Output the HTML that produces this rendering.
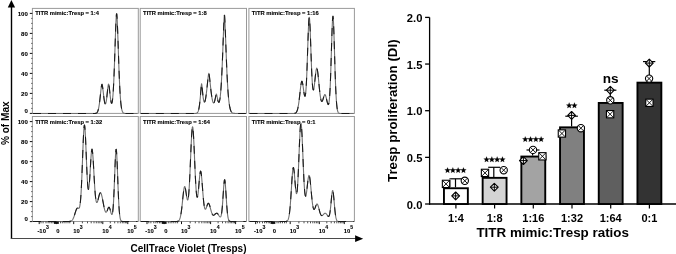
<!DOCTYPE html>
<html><head><meta charset="utf-8"><style>
html,body{margin:0;padding:0;background:#fff;}
body{width:676px;height:254px;position:relative;overflow:hidden;font-family:"Liberation Sans",sans-serif;}
</style></head><body>
<svg width="676" height="254" viewBox="0 0 676 254" style="position:absolute;left:0;top:0;filter:grayscale(1)">
<rect width="676" height="254" fill="#fff"/>
<line x1="11.5" y1="6" x2="11.5" y2="238.6" stroke="#000" stroke-width="1.4"/>
<polygon points="11.4,0 15.1,7.4 7.8,7.4" fill="#000"/>
<line x1="10.8" y1="238.5" x2="356" y2="238.5" stroke="#4a4a4a" stroke-width="1.15"/>
<polygon points="363.2,238.7 355.1,235.3 355.1,242.1" fill="#000"/>
<text x="0" y="0" transform="translate(8.9,145.1) rotate(-90)" font-family="Liberation Sans,sans-serif" font-weight="bold" font-size="10.1" fill="#000">% of Max</text>
<text x="188.5" y="252" text-anchor="middle" font-family="Liberation Sans,sans-serif" font-weight="bold" font-size="10" fill="#000">CellTrace Violet (Tresps)</text>
<rect x="32.4" y="8.4" width="105.9" height="105.0" fill="none" stroke="#999" stroke-width="1"/>
<text x="35.3" y="15.4" font-family="Liberation Sans,sans-serif" font-weight="bold" font-size="5.8" fill="#000" stroke="#000" stroke-width="0.12">TITR mimic:Tresp = 1:4</text>
<path d="M33.00,113.50 L94.50,113.47 L94.75,113.46 L95.00,113.44 L95.25,113.41 L95.50,113.37 L95.75,113.31 L96.00,113.24 L96.25,113.13 L96.50,112.99 L96.75,112.79 L97.00,112.54 L97.25,112.21 L97.50,111.79 L97.75,111.26 L98.00,110.60 L98.25,109.78 L98.50,108.79 L98.75,107.61 L99.00,106.22 L99.25,104.63 L99.50,102.83 L99.75,100.83 L100.00,98.67 L100.25,96.38 L100.50,94.03 L100.75,91.70 L101.00,89.47 L101.25,87.47 L101.50,85.83 L101.75,84.69 L102.00,84.31 L102.25,84.98 L102.50,86.28 L102.75,88.01 L103.00,90.02 L103.25,92.19 L103.50,94.39 L103.75,96.52 L104.00,98.50 L104.25,100.25 L104.50,101.70 L104.75,102.83 L105.00,103.58 L105.25,103.93 L105.50,103.87 L105.75,103.39 L106.00,102.51 L106.25,101.22 L106.50,99.58 L106.75,97.63 L107.00,95.44 L107.25,93.11 L107.50,90.74 L107.75,88.49 L108.00,86.49 L108.25,84.94 L108.50,84.06 L108.75,84.32 L109.00,85.50 L109.25,87.26 L109.50,89.38 L109.75,91.70 L110.00,94.07 L110.25,96.35 L110.50,98.43 L110.75,100.22 L111.00,101.66 L111.25,102.67 L111.50,103.21 L111.75,103.25 L112.00,102.75 L112.25,101.68 L112.50,100.00 L112.75,97.69 L113.00,94.72 L113.25,91.07 L113.50,86.72 L113.75,81.70 L114.00,76.01 L114.25,69.71 L114.50,62.90 L114.75,55.69 L115.00,48.26 L115.25,40.81 L115.50,33.60 L115.75,26.93 L116.00,21.14 L116.25,16.61 L116.50,13.81 L116.75,13.81 L117.00,16.61 L117.25,21.15 L117.50,26.95 L117.75,33.62 L118.00,40.84 L118.25,48.31 L118.50,55.78 L118.75,63.03 L119.00,69.91 L119.25,76.30 L119.50,82.12 L119.75,87.32 L120.00,91.91 L120.25,95.88 L120.50,99.27 L120.75,102.14 L121.00,104.51 L121.25,106.47 L121.50,108.05 L121.75,109.32 L122.00,110.32 L122.25,111.11 L122.50,111.72 L122.75,112.18 L123.00,112.54 L123.25,112.80 L123.50,113.00 L123.75,113.14 L124.00,113.25 L124.25,113.32 L124.50,113.38 L124.75,113.42 L125.00,113.44 L125.25,113.46 L125.50,113.47 L137.50,113.50" fill="none" stroke="#707070" stroke-width="1.1" stroke-linejoin="round"/>
<path d="M33.00,113.50 L94.50,113.47 L94.75,113.46 L95.00,113.44 L95.25,113.41 L95.50,113.37 L95.75,113.31 L96.00,113.24 L96.25,113.13 L96.50,112.99 L96.75,112.79 L97.00,112.54 L97.25,112.21 L97.50,111.79 L97.75,111.26 L98.00,110.60 L98.25,109.78 L98.50,108.79 L98.75,107.61 L99.00,106.22 L99.25,104.63 L99.50,102.83 L99.75,100.83 L100.00,98.67 L100.25,96.38 L100.50,94.03 L100.75,91.70 L101.00,89.47 L101.25,87.47 L101.50,85.83 L101.75,84.69 L102.00,84.31 L102.25,84.98 L102.50,86.28 L102.75,88.01 L103.00,90.02 L103.25,92.19 L103.50,94.39 L103.75,96.52 L104.00,98.50 L104.25,100.25 L104.50,101.70 L104.75,102.83 L105.00,103.58 L105.25,103.93 L105.50,103.87 L105.75,103.39 L106.00,102.51 L106.25,101.22 L106.50,99.58 L106.75,97.63 L107.00,95.44 L107.25,93.11 L107.50,90.74 L107.75,88.49 L108.00,86.49 L108.25,84.94 L108.50,84.06 L108.75,84.32 L109.00,85.50 L109.25,87.26 L109.50,89.38 L109.75,91.70 L110.00,94.07 L110.25,96.35 L110.50,98.43 L110.75,100.22 L111.00,101.66 L111.25,102.67 L111.50,103.21 L111.75,103.25 L112.00,102.75 L112.25,101.68 L112.50,100.00 L112.75,97.69 L113.00,94.72 L113.25,91.07 L113.50,86.72 L113.75,81.70 L114.00,76.01 L114.25,69.71 L114.50,62.90 L114.75,55.69 L115.00,48.26 L115.25,40.81 L115.50,33.60 L115.75,26.93 L116.00,21.14 L116.25,16.61 L116.50,13.81 L116.75,13.81 L117.00,16.61 L117.25,21.15 L117.50,26.95 L117.75,33.62 L118.00,40.84 L118.25,48.31 L118.50,55.78 L118.75,63.03 L119.00,69.91 L119.25,76.30 L119.50,82.12 L119.75,87.32 L120.00,91.91 L120.25,95.88 L120.50,99.27 L120.75,102.14 L121.00,104.51 L121.25,106.47 L121.50,108.05 L121.75,109.32 L122.00,110.32 L122.25,111.11 L122.50,111.72 L122.75,112.18 L123.00,112.54 L123.25,112.80 L123.50,113.00 L123.75,113.14 L124.00,113.25 L124.25,113.32 L124.50,113.38 L124.75,113.42 L125.00,113.44 L125.25,113.46 L125.50,113.47 L137.50,113.50" fill="none" stroke="#1a1a1a" stroke-width="1.05" stroke-dasharray="8 7" stroke-linejoin="round"/>
<line x1="29.8" y1="113.40" x2="32.4" y2="113.40" stroke="#111" stroke-width="1"/>
<text x="27.8" y="113.10" text-anchor="end" font-family="Liberation Sans,sans-serif" font-weight="bold" font-size="6.1" fill="#000" stroke="#000" stroke-width="0.1">0</text>
<line x1="31.2" y1="108.40" x2="32.4" y2="108.40" stroke="#333" stroke-width="0.8"/>
<line x1="31.2" y1="103.40" x2="32.4" y2="103.40" stroke="#333" stroke-width="0.8"/>
<line x1="31.2" y1="98.40" x2="32.4" y2="98.40" stroke="#333" stroke-width="0.8"/>
<line x1="29.8" y1="93.40" x2="32.4" y2="93.40" stroke="#111" stroke-width="1"/>
<text x="27.8" y="95.50" text-anchor="end" font-family="Liberation Sans,sans-serif" font-weight="bold" font-size="6.1" fill="#000" stroke="#000" stroke-width="0.1">20</text>
<line x1="31.2" y1="88.40" x2="32.4" y2="88.40" stroke="#333" stroke-width="0.8"/>
<line x1="31.2" y1="83.40" x2="32.4" y2="83.40" stroke="#333" stroke-width="0.8"/>
<line x1="31.2" y1="78.40" x2="32.4" y2="78.40" stroke="#333" stroke-width="0.8"/>
<line x1="29.8" y1="73.40" x2="32.4" y2="73.40" stroke="#111" stroke-width="1"/>
<text x="27.8" y="75.50" text-anchor="end" font-family="Liberation Sans,sans-serif" font-weight="bold" font-size="6.1" fill="#000" stroke="#000" stroke-width="0.1">40</text>
<line x1="31.2" y1="68.40" x2="32.4" y2="68.40" stroke="#333" stroke-width="0.8"/>
<line x1="31.2" y1="63.40" x2="32.4" y2="63.40" stroke="#333" stroke-width="0.8"/>
<line x1="31.2" y1="58.40" x2="32.4" y2="58.40" stroke="#333" stroke-width="0.8"/>
<line x1="29.8" y1="53.40" x2="32.4" y2="53.40" stroke="#111" stroke-width="1"/>
<text x="27.8" y="55.50" text-anchor="end" font-family="Liberation Sans,sans-serif" font-weight="bold" font-size="6.1" fill="#000" stroke="#000" stroke-width="0.1">60</text>
<line x1="31.2" y1="48.40" x2="32.4" y2="48.40" stroke="#333" stroke-width="0.8"/>
<line x1="31.2" y1="43.40" x2="32.4" y2="43.40" stroke="#333" stroke-width="0.8"/>
<line x1="31.2" y1="38.40" x2="32.4" y2="38.40" stroke="#333" stroke-width="0.8"/>
<line x1="29.8" y1="33.40" x2="32.4" y2="33.40" stroke="#111" stroke-width="1"/>
<text x="27.8" y="35.50" text-anchor="end" font-family="Liberation Sans,sans-serif" font-weight="bold" font-size="6.1" fill="#000" stroke="#000" stroke-width="0.1">80</text>
<line x1="31.2" y1="28.40" x2="32.4" y2="28.40" stroke="#333" stroke-width="0.8"/>
<line x1="31.2" y1="23.40" x2="32.4" y2="23.40" stroke="#333" stroke-width="0.8"/>
<line x1="31.2" y1="18.40" x2="32.4" y2="18.40" stroke="#333" stroke-width="0.8"/>
<line x1="29.8" y1="13.40" x2="32.4" y2="13.40" stroke="#111" stroke-width="1"/>
<text x="27.8" y="15.50" text-anchor="end" font-family="Liberation Sans,sans-serif" font-weight="bold" font-size="6.1" fill="#000" stroke="#000" stroke-width="0.1">100</text>
<rect x="140.2" y="8.4" width="106.3" height="105.0" fill="none" stroke="#999" stroke-width="1"/>
<text x="143.1" y="15.4" font-family="Liberation Sans,sans-serif" font-weight="bold" font-size="5.8" fill="#000" stroke="#000" stroke-width="0.12">TITR mimic:Tresp = 1:8</text>
<path d="M140.80,113.50 L194.80,113.48 L195.05,113.47 L195.30,113.45 L195.55,113.43 L195.80,113.40 L196.05,113.35 L196.30,113.29 L196.55,113.21 L196.80,113.09 L197.05,112.93 L197.30,112.72 L197.55,112.43 L197.80,112.05 L198.05,111.56 L198.30,110.92 L198.55,110.12 L198.80,109.10 L199.05,107.85 L199.30,106.32 L199.55,104.50 L199.80,102.37 L200.05,99.92 L200.30,97.19 L200.55,94.24 L200.80,91.17 L201.05,88.16 L201.30,85.49 L201.55,83.69 L201.80,84.64 L202.05,86.77 L202.30,89.29 L202.55,91.88 L202.80,94.36 L203.05,96.58 L203.30,98.46 L203.55,99.96 L203.80,101.07 L204.05,101.78 L204.30,102.10 L204.55,102.07 L204.80,101.70 L205.05,101.02 L205.30,100.05 L205.55,98.82 L205.80,97.36 L206.05,95.67 L206.30,93.79 L206.55,91.74 L206.80,89.55 L207.05,87.25 L207.30,84.89 L207.55,82.51 L207.80,80.17 L208.05,77.94 L208.30,75.94 L208.55,74.30 L208.80,73.30 L209.05,74.09 L209.30,75.66 L209.55,77.60 L209.80,79.78 L210.05,82.09 L210.30,84.44 L210.55,86.79 L210.80,89.07 L211.05,91.25 L211.30,93.30 L211.55,95.18 L211.80,96.90 L212.05,98.41 L212.30,99.73 L212.55,100.82 L212.80,101.70 L213.05,102.35 L213.30,102.77 L213.55,102.95 L213.80,102.91 L214.05,102.63 L214.30,102.14 L214.55,101.43 L214.80,100.54 L215.05,99.50 L215.30,98.33 L215.55,97.10 L215.80,95.89 L216.05,94.81 L216.30,94.04 L216.55,94.35 L216.80,95.33 L217.05,96.52 L217.30,97.76 L217.55,98.97 L217.80,100.06 L218.05,100.99 L218.30,101.70 L218.55,102.15 L218.80,102.33 L219.05,102.20 L219.30,101.74 L219.55,100.93 L219.80,99.74 L220.05,98.16 L220.30,96.17 L220.55,93.73 L220.80,90.83 L221.05,87.46 L221.30,83.60 L221.55,79.24 L221.80,74.39 L222.05,69.06 L222.30,63.28 L222.55,57.11 L222.80,50.63 L223.05,43.96 L223.30,37.23 L223.55,30.66 L223.80,24.52 L224.05,19.17 L224.30,15.23 L224.55,15.23 L224.80,19.18 L225.05,24.55 L225.30,30.71 L225.55,37.30 L225.80,44.06 L226.05,50.77 L226.30,57.30 L226.55,63.53 L226.80,69.39 L227.05,74.82 L227.30,79.80 L227.55,84.32 L227.80,88.38 L228.05,92.00 L228.30,95.20 L228.55,98.00 L228.80,100.44 L229.05,102.55 L229.30,104.37 L229.55,105.92 L229.80,107.23 L230.05,108.34 L230.30,109.28 L230.55,110.06 L230.80,110.70 L231.05,111.24 L231.30,111.68 L231.55,112.04 L231.80,112.33 L232.05,112.57 L232.30,112.76 L232.55,112.92 L232.80,113.04 L233.05,113.14 L233.30,113.22 L233.55,113.28 L233.80,113.33 L234.05,113.37 L234.30,113.40 L234.55,113.42 L234.80,113.44 L235.05,113.45 L235.30,113.47 L245.80,113.50" fill="none" stroke="#707070" stroke-width="1.1" stroke-linejoin="round"/>
<path d="M140.80,113.50 L194.80,113.48 L195.05,113.47 L195.30,113.45 L195.55,113.43 L195.80,113.40 L196.05,113.35 L196.30,113.29 L196.55,113.21 L196.80,113.09 L197.05,112.93 L197.30,112.72 L197.55,112.43 L197.80,112.05 L198.05,111.56 L198.30,110.92 L198.55,110.12 L198.80,109.10 L199.05,107.85 L199.30,106.32 L199.55,104.50 L199.80,102.37 L200.05,99.92 L200.30,97.19 L200.55,94.24 L200.80,91.17 L201.05,88.16 L201.30,85.49 L201.55,83.69 L201.80,84.64 L202.05,86.77 L202.30,89.29 L202.55,91.88 L202.80,94.36 L203.05,96.58 L203.30,98.46 L203.55,99.96 L203.80,101.07 L204.05,101.78 L204.30,102.10 L204.55,102.07 L204.80,101.70 L205.05,101.02 L205.30,100.05 L205.55,98.82 L205.80,97.36 L206.05,95.67 L206.30,93.79 L206.55,91.74 L206.80,89.55 L207.05,87.25 L207.30,84.89 L207.55,82.51 L207.80,80.17 L208.05,77.94 L208.30,75.94 L208.55,74.30 L208.80,73.30 L209.05,74.09 L209.30,75.66 L209.55,77.60 L209.80,79.78 L210.05,82.09 L210.30,84.44 L210.55,86.79 L210.80,89.07 L211.05,91.25 L211.30,93.30 L211.55,95.18 L211.80,96.90 L212.05,98.41 L212.30,99.73 L212.55,100.82 L212.80,101.70 L213.05,102.35 L213.30,102.77 L213.55,102.95 L213.80,102.91 L214.05,102.63 L214.30,102.14 L214.55,101.43 L214.80,100.54 L215.05,99.50 L215.30,98.33 L215.55,97.10 L215.80,95.89 L216.05,94.81 L216.30,94.04 L216.55,94.35 L216.80,95.33 L217.05,96.52 L217.30,97.76 L217.55,98.97 L217.80,100.06 L218.05,100.99 L218.30,101.70 L218.55,102.15 L218.80,102.33 L219.05,102.20 L219.30,101.74 L219.55,100.93 L219.80,99.74 L220.05,98.16 L220.30,96.17 L220.55,93.73 L220.80,90.83 L221.05,87.46 L221.30,83.60 L221.55,79.24 L221.80,74.39 L222.05,69.06 L222.30,63.28 L222.55,57.11 L222.80,50.63 L223.05,43.96 L223.30,37.23 L223.55,30.66 L223.80,24.52 L224.05,19.17 L224.30,15.23 L224.55,15.23 L224.80,19.18 L225.05,24.55 L225.30,30.71 L225.55,37.30 L225.80,44.06 L226.05,50.77 L226.30,57.30 L226.55,63.53 L226.80,69.39 L227.05,74.82 L227.30,79.80 L227.55,84.32 L227.80,88.38 L228.05,92.00 L228.30,95.20 L228.55,98.00 L228.80,100.44 L229.05,102.55 L229.30,104.37 L229.55,105.92 L229.80,107.23 L230.05,108.34 L230.30,109.28 L230.55,110.06 L230.80,110.70 L231.05,111.24 L231.30,111.68 L231.55,112.04 L231.80,112.33 L232.05,112.57 L232.30,112.76 L232.55,112.92 L232.80,113.04 L233.05,113.14 L233.30,113.22 L233.55,113.28 L233.80,113.33 L234.05,113.37 L234.30,113.40 L234.55,113.42 L234.80,113.44 L235.05,113.45 L235.30,113.47 L245.80,113.50" fill="none" stroke="#1a1a1a" stroke-width="1.05" stroke-dasharray="8 7" stroke-linejoin="round"/>
<rect x="248.9" y="8.4" width="105.5" height="105.0" fill="none" stroke="#999" stroke-width="1"/>
<text x="251.8" y="15.4" font-family="Liberation Sans,sans-serif" font-weight="bold" font-size="5.8" fill="#000" stroke="#000" stroke-width="0.12">TITR mimic:Tresp = 1:16</text>
<path d="M249.50,113.50 L293.50,113.47 L293.75,113.46 L294.00,113.44 L294.25,113.42 L294.50,113.38 L294.75,113.33 L295.00,113.26 L295.25,113.17 L295.50,113.05 L295.75,112.88 L296.00,112.67 L296.25,112.40 L296.50,112.05 L296.75,111.61 L297.00,111.07 L297.25,110.40 L297.50,109.59 L297.75,108.64 L298.00,107.51 L298.25,106.21 L298.50,104.72 L298.75,103.05 L299.00,101.21 L299.25,99.22 L299.50,97.10 L299.75,94.89 L300.00,92.64 L300.25,90.40 L300.50,88.25 L300.75,86.25 L301.00,84.49 L301.25,83.02 L301.50,81.94 L301.75,81.31 L302.00,81.26 L302.25,81.78 L302.50,82.76 L302.75,84.09 L303.00,85.69 L303.25,87.47 L303.50,89.32 L303.75,91.15 L304.00,92.85 L304.25,94.30 L304.50,95.42 L304.75,96.09 L305.00,96.20 L305.25,95.68 L305.50,94.41 L305.75,92.34 L306.00,89.41 L306.25,85.57 L306.50,80.84 L306.75,75.26 L307.00,68.91 L307.25,61.94 L307.50,54.56 L307.75,47.01 L308.00,39.61 L308.25,32.70 L308.50,26.63 L308.75,21.77 L309.00,18.49 L309.25,17.19 L309.50,18.36 L309.75,21.50 L310.00,26.19 L310.25,32.07 L310.50,38.76 L310.75,45.91 L311.00,53.16 L311.25,60.21 L311.50,66.79 L311.75,72.72 L312.00,77.84 L312.25,82.07 L312.50,85.37 L312.75,87.74 L313.00,89.23 L313.25,89.89 L313.50,89.81 L313.75,89.08 L314.00,87.82 L314.25,86.12 L314.50,84.09 L314.75,81.84 L315.00,79.48 L315.25,77.12 L315.50,74.84 L315.75,72.76 L316.00,70.96 L316.25,69.53 L316.50,68.55 L316.75,68.11 L317.00,68.36 L317.25,69.20 L317.50,70.53 L317.75,72.26 L318.00,74.33 L318.25,76.65 L318.50,79.16 L318.75,81.76 L319.00,84.39 L319.25,86.99 L319.50,89.48 L319.75,91.81 L320.00,93.95 L320.25,95.85 L320.50,97.49 L320.75,98.85 L321.00,99.92 L321.25,100.69 L321.50,101.18 L321.75,101.40 L322.00,101.37 L322.25,101.11 L322.50,100.65 L322.75,100.04 L323.00,99.31 L323.25,98.50 L323.50,97.66 L323.75,96.84 L324.00,96.08 L324.25,95.43 L324.50,94.94 L324.75,94.64 L325.00,94.60 L325.25,94.85 L325.50,95.35 L325.75,96.04 L326.00,96.90 L326.25,97.88 L326.50,98.94 L326.75,100.04 L327.00,101.14 L327.25,102.17 L327.50,103.09 L327.75,103.85 L328.00,104.37 L328.25,104.58 L328.50,104.42 L328.75,103.78 L329.00,102.59 L329.25,100.74 L329.50,98.15 L329.75,94.72 L330.00,90.40 L330.25,85.16 L330.50,79.01 L330.75,72.02 L331.00,64.34 L331.25,56.17 L331.50,47.81 L331.75,39.61 L332.00,31.97 L332.25,25.35 L332.50,20.20 L332.75,16.95 L333.00,16.18 L333.25,18.23 L333.50,22.46 L333.75,28.40 L334.00,35.61 L334.25,43.64 L334.50,52.07 L334.75,60.52 L335.00,68.66 L335.25,76.26 L335.50,83.13 L335.75,89.17 L336.00,94.36 L336.25,98.71 L336.50,102.27 L336.75,105.12 L337.00,107.35 L337.25,109.06 L337.50,110.36 L337.75,111.31 L338.00,112.00 L338.25,112.49 L338.50,112.83 L338.75,113.06 L339.00,113.22 L339.25,113.32 L339.50,113.39 L339.75,113.43 L340.00,113.46 L340.25,113.48 L340.50,113.49 L353.75,113.50" fill="none" stroke="#707070" stroke-width="1.1" stroke-linejoin="round"/>
<path d="M249.50,113.50 L293.50,113.47 L293.75,113.46 L294.00,113.44 L294.25,113.42 L294.50,113.38 L294.75,113.33 L295.00,113.26 L295.25,113.17 L295.50,113.05 L295.75,112.88 L296.00,112.67 L296.25,112.40 L296.50,112.05 L296.75,111.61 L297.00,111.07 L297.25,110.40 L297.50,109.59 L297.75,108.64 L298.00,107.51 L298.25,106.21 L298.50,104.72 L298.75,103.05 L299.00,101.21 L299.25,99.22 L299.50,97.10 L299.75,94.89 L300.00,92.64 L300.25,90.40 L300.50,88.25 L300.75,86.25 L301.00,84.49 L301.25,83.02 L301.50,81.94 L301.75,81.31 L302.00,81.26 L302.25,81.78 L302.50,82.76 L302.75,84.09 L303.00,85.69 L303.25,87.47 L303.50,89.32 L303.75,91.15 L304.00,92.85 L304.25,94.30 L304.50,95.42 L304.75,96.09 L305.00,96.20 L305.25,95.68 L305.50,94.41 L305.75,92.34 L306.00,89.41 L306.25,85.57 L306.50,80.84 L306.75,75.26 L307.00,68.91 L307.25,61.94 L307.50,54.56 L307.75,47.01 L308.00,39.61 L308.25,32.70 L308.50,26.63 L308.75,21.77 L309.00,18.49 L309.25,17.19 L309.50,18.36 L309.75,21.50 L310.00,26.19 L310.25,32.07 L310.50,38.76 L310.75,45.91 L311.00,53.16 L311.25,60.21 L311.50,66.79 L311.75,72.72 L312.00,77.84 L312.25,82.07 L312.50,85.37 L312.75,87.74 L313.00,89.23 L313.25,89.89 L313.50,89.81 L313.75,89.08 L314.00,87.82 L314.25,86.12 L314.50,84.09 L314.75,81.84 L315.00,79.48 L315.25,77.12 L315.50,74.84 L315.75,72.76 L316.00,70.96 L316.25,69.53 L316.50,68.55 L316.75,68.11 L317.00,68.36 L317.25,69.20 L317.50,70.53 L317.75,72.26 L318.00,74.33 L318.25,76.65 L318.50,79.16 L318.75,81.76 L319.00,84.39 L319.25,86.99 L319.50,89.48 L319.75,91.81 L320.00,93.95 L320.25,95.85 L320.50,97.49 L320.75,98.85 L321.00,99.92 L321.25,100.69 L321.50,101.18 L321.75,101.40 L322.00,101.37 L322.25,101.11 L322.50,100.65 L322.75,100.04 L323.00,99.31 L323.25,98.50 L323.50,97.66 L323.75,96.84 L324.00,96.08 L324.25,95.43 L324.50,94.94 L324.75,94.64 L325.00,94.60 L325.25,94.85 L325.50,95.35 L325.75,96.04 L326.00,96.90 L326.25,97.88 L326.50,98.94 L326.75,100.04 L327.00,101.14 L327.25,102.17 L327.50,103.09 L327.75,103.85 L328.00,104.37 L328.25,104.58 L328.50,104.42 L328.75,103.78 L329.00,102.59 L329.25,100.74 L329.50,98.15 L329.75,94.72 L330.00,90.40 L330.25,85.16 L330.50,79.01 L330.75,72.02 L331.00,64.34 L331.25,56.17 L331.50,47.81 L331.75,39.61 L332.00,31.97 L332.25,25.35 L332.50,20.20 L332.75,16.95 L333.00,16.18 L333.25,18.23 L333.50,22.46 L333.75,28.40 L334.00,35.61 L334.25,43.64 L334.50,52.07 L334.75,60.52 L335.00,68.66 L335.25,76.26 L335.50,83.13 L335.75,89.17 L336.00,94.36 L336.25,98.71 L336.50,102.27 L336.75,105.12 L337.00,107.35 L337.25,109.06 L337.50,110.36 L337.75,111.31 L338.00,112.00 L338.25,112.49 L338.50,112.83 L338.75,113.06 L339.00,113.22 L339.25,113.32 L339.50,113.39 L339.75,113.43 L340.00,113.46 L340.25,113.48 L340.50,113.49 L353.75,113.50" fill="none" stroke="#1a1a1a" stroke-width="1.05" stroke-dasharray="8 7" stroke-linejoin="round"/>
<rect x="32.4" y="116.5" width="105.9" height="105.0" fill="none" stroke="#999" stroke-width="1"/>
<text x="35.3" y="123.8" font-family="Liberation Sans,sans-serif" font-weight="bold" font-size="5.8" fill="#000" stroke="#000" stroke-width="0.12">TITR mimic:Tresp = 1:32</text>
<path d="M33.00,221.50 L68.75,221.47 L69.00,221.45 L69.25,221.44 L69.50,221.41 L69.75,221.38 L70.00,221.34 L70.25,221.29 L70.50,221.23 L70.75,221.14 L71.00,221.04 L71.25,220.91 L71.50,220.74 L71.75,220.55 L72.00,220.31 L72.25,220.04 L72.50,219.71 L72.75,219.33 L73.00,218.89 L73.25,218.39 L73.50,217.84 L73.75,217.22 L74.00,216.55 L74.25,215.83 L74.50,215.07 L74.75,214.28 L75.00,213.47 L75.25,212.65 L75.50,211.85 L75.75,211.08 L76.00,210.36 L76.25,209.71 L76.50,209.15 L76.75,208.69 L77.00,208.34 L77.25,208.12 L77.50,208.03 L77.75,208.05 L78.00,208.14 L78.25,208.25 L78.50,208.35 L78.75,208.36 L79.00,208.24 L79.25,207.91 L79.50,207.30 L79.75,206.35 L80.00,204.97 L80.25,203.10 L80.50,200.68 L80.75,197.66 L81.00,194.00 L81.25,189.70 L81.50,184.77 L81.75,179.26 L82.00,173.24 L82.25,166.85 L82.50,160.23 L82.75,153.58 L83.00,147.10 L83.25,141.02 L83.50,135.60 L83.75,131.06 L84.00,127.63 L84.25,125.53 L84.50,125.00 L84.75,126.21 L85.00,128.85 L85.25,132.71 L85.50,137.56 L85.75,143.15 L86.00,149.22 L86.25,155.51 L86.50,161.78 L86.75,167.78 L87.00,173.32 L87.25,178.21 L87.50,182.32 L87.75,185.55 L88.00,187.81 L88.25,189.09 L88.50,189.36 L88.75,188.68 L89.00,187.09 L89.25,184.68 L89.50,181.57 L89.75,177.89 L90.00,173.81 L90.25,169.50 L90.50,165.16 L90.75,160.98 L91.00,157.16 L91.25,153.89 L91.50,151.35 L91.75,149.71 L92.00,149.13 L92.25,149.79 L92.50,151.49 L92.75,154.08 L93.00,157.40 L93.25,161.30 L93.50,165.60 L93.75,170.12 L94.00,174.71 L94.25,179.22 L94.50,183.50 L94.75,187.47 L95.00,191.03 L95.25,194.14 L95.50,196.74 L95.75,198.85 L96.00,200.45 L96.25,201.58 L96.50,202.28 L96.75,202.57 L97.00,202.52 L97.25,202.18 L97.50,201.60 L97.75,200.82 L98.00,199.92 L98.25,198.93 L98.50,197.90 L98.75,196.87 L99.00,195.89 L99.25,194.98 L99.50,194.19 L99.75,193.54 L100.00,193.05 L100.25,192.76 L100.50,192.69 L100.75,192.87 L101.00,193.27 L101.25,193.86 L101.50,194.62 L101.75,195.54 L102.00,196.59 L102.25,197.75 L102.50,198.99 L102.75,200.30 L103.00,201.64 L103.25,202.99 L103.50,204.32 L103.75,205.62 L104.00,206.86 L104.25,208.01 L104.50,209.05 L104.75,209.97 L105.00,210.75 L105.25,211.37 L105.50,211.83 L105.75,212.12 L106.00,212.22 L106.25,212.16 L106.50,211.93 L106.75,211.56 L107.00,211.06 L107.25,210.47 L107.50,209.83 L107.75,209.17 L108.00,208.54 L108.25,207.98 L108.50,207.55 L108.75,207.27 L109.00,207.19 L109.25,207.37 L109.50,207.78 L109.75,208.38 L110.00,209.13 L110.25,210.00 L110.50,210.92 L110.75,211.86 L111.00,212.74 L111.25,213.50 L111.50,214.08 L111.75,214.40 L112.00,214.39 L112.25,213.94 L112.50,212.99 L112.75,211.42 L113.00,209.17 L113.25,206.15 L113.50,202.34 L113.75,197.72 L114.00,192.34 L114.25,186.33 L114.50,179.87 L114.75,173.22 L115.00,166.71 L115.25,160.69 L115.50,155.57 L115.75,151.72 L116.00,149.51 L116.25,149.33 L116.50,151.26 L116.75,154.87 L117.00,159.84 L117.25,165.78 L117.50,172.30 L117.75,179.05 L118.00,185.68 L118.25,191.94 L118.50,197.63 L118.75,202.64 L119.00,206.92 L119.25,210.46 L119.50,213.32 L119.75,215.56 L120.00,217.28 L120.25,218.56 L120.50,219.50 L120.75,220.16 L121.00,220.62 L121.25,220.94 L121.50,221.15 L121.75,221.28 L122.00,221.37 L122.25,221.42 L122.50,221.45 L122.75,221.47 L123.00,221.49 L137.50,221.50" fill="none" stroke="#707070" stroke-width="1.1" stroke-linejoin="round"/>
<path d="M33.00,221.50 L68.75,221.47 L69.00,221.45 L69.25,221.44 L69.50,221.41 L69.75,221.38 L70.00,221.34 L70.25,221.29 L70.50,221.23 L70.75,221.14 L71.00,221.04 L71.25,220.91 L71.50,220.74 L71.75,220.55 L72.00,220.31 L72.25,220.04 L72.50,219.71 L72.75,219.33 L73.00,218.89 L73.25,218.39 L73.50,217.84 L73.75,217.22 L74.00,216.55 L74.25,215.83 L74.50,215.07 L74.75,214.28 L75.00,213.47 L75.25,212.65 L75.50,211.85 L75.75,211.08 L76.00,210.36 L76.25,209.71 L76.50,209.15 L76.75,208.69 L77.00,208.34 L77.25,208.12 L77.50,208.03 L77.75,208.05 L78.00,208.14 L78.25,208.25 L78.50,208.35 L78.75,208.36 L79.00,208.24 L79.25,207.91 L79.50,207.30 L79.75,206.35 L80.00,204.97 L80.25,203.10 L80.50,200.68 L80.75,197.66 L81.00,194.00 L81.25,189.70 L81.50,184.77 L81.75,179.26 L82.00,173.24 L82.25,166.85 L82.50,160.23 L82.75,153.58 L83.00,147.10 L83.25,141.02 L83.50,135.60 L83.75,131.06 L84.00,127.63 L84.25,125.53 L84.50,125.00 L84.75,126.21 L85.00,128.85 L85.25,132.71 L85.50,137.56 L85.75,143.15 L86.00,149.22 L86.25,155.51 L86.50,161.78 L86.75,167.78 L87.00,173.32 L87.25,178.21 L87.50,182.32 L87.75,185.55 L88.00,187.81 L88.25,189.09 L88.50,189.36 L88.75,188.68 L89.00,187.09 L89.25,184.68 L89.50,181.57 L89.75,177.89 L90.00,173.81 L90.25,169.50 L90.50,165.16 L90.75,160.98 L91.00,157.16 L91.25,153.89 L91.50,151.35 L91.75,149.71 L92.00,149.13 L92.25,149.79 L92.50,151.49 L92.75,154.08 L93.00,157.40 L93.25,161.30 L93.50,165.60 L93.75,170.12 L94.00,174.71 L94.25,179.22 L94.50,183.50 L94.75,187.47 L95.00,191.03 L95.25,194.14 L95.50,196.74 L95.75,198.85 L96.00,200.45 L96.25,201.58 L96.50,202.28 L96.75,202.57 L97.00,202.52 L97.25,202.18 L97.50,201.60 L97.75,200.82 L98.00,199.92 L98.25,198.93 L98.50,197.90 L98.75,196.87 L99.00,195.89 L99.25,194.98 L99.50,194.19 L99.75,193.54 L100.00,193.05 L100.25,192.76 L100.50,192.69 L100.75,192.87 L101.00,193.27 L101.25,193.86 L101.50,194.62 L101.75,195.54 L102.00,196.59 L102.25,197.75 L102.50,198.99 L102.75,200.30 L103.00,201.64 L103.25,202.99 L103.50,204.32 L103.75,205.62 L104.00,206.86 L104.25,208.01 L104.50,209.05 L104.75,209.97 L105.00,210.75 L105.25,211.37 L105.50,211.83 L105.75,212.12 L106.00,212.22 L106.25,212.16 L106.50,211.93 L106.75,211.56 L107.00,211.06 L107.25,210.47 L107.50,209.83 L107.75,209.17 L108.00,208.54 L108.25,207.98 L108.50,207.55 L108.75,207.27 L109.00,207.19 L109.25,207.37 L109.50,207.78 L109.75,208.38 L110.00,209.13 L110.25,210.00 L110.50,210.92 L110.75,211.86 L111.00,212.74 L111.25,213.50 L111.50,214.08 L111.75,214.40 L112.00,214.39 L112.25,213.94 L112.50,212.99 L112.75,211.42 L113.00,209.17 L113.25,206.15 L113.50,202.34 L113.75,197.72 L114.00,192.34 L114.25,186.33 L114.50,179.87 L114.75,173.22 L115.00,166.71 L115.25,160.69 L115.50,155.57 L115.75,151.72 L116.00,149.51 L116.25,149.33 L116.50,151.26 L116.75,154.87 L117.00,159.84 L117.25,165.78 L117.50,172.30 L117.75,179.05 L118.00,185.68 L118.25,191.94 L118.50,197.63 L118.75,202.64 L119.00,206.92 L119.25,210.46 L119.50,213.32 L119.75,215.56 L120.00,217.28 L120.25,218.56 L120.50,219.50 L120.75,220.16 L121.00,220.62 L121.25,220.94 L121.50,221.15 L121.75,221.28 L122.00,221.37 L122.25,221.42 L122.50,221.45 L122.75,221.47 L123.00,221.49 L137.50,221.50" fill="none" stroke="#1a1a1a" stroke-width="1.05" stroke-dasharray="8 7" stroke-linejoin="round"/>
<line x1="29.8" y1="221.60" x2="32.4" y2="221.60" stroke="#111" stroke-width="1"/>
<text x="27.8" y="221.30" text-anchor="end" font-family="Liberation Sans,sans-serif" font-weight="bold" font-size="6.1" fill="#000" stroke="#000" stroke-width="0.1">0</text>
<line x1="31.2" y1="216.60" x2="32.4" y2="216.60" stroke="#333" stroke-width="0.8"/>
<line x1="31.2" y1="211.60" x2="32.4" y2="211.60" stroke="#333" stroke-width="0.8"/>
<line x1="31.2" y1="206.60" x2="32.4" y2="206.60" stroke="#333" stroke-width="0.8"/>
<line x1="29.8" y1="201.60" x2="32.4" y2="201.60" stroke="#111" stroke-width="1"/>
<text x="27.8" y="203.70" text-anchor="end" font-family="Liberation Sans,sans-serif" font-weight="bold" font-size="6.1" fill="#000" stroke="#000" stroke-width="0.1">20</text>
<line x1="31.2" y1="196.60" x2="32.4" y2="196.60" stroke="#333" stroke-width="0.8"/>
<line x1="31.2" y1="191.60" x2="32.4" y2="191.60" stroke="#333" stroke-width="0.8"/>
<line x1="31.2" y1="186.60" x2="32.4" y2="186.60" stroke="#333" stroke-width="0.8"/>
<line x1="29.8" y1="181.60" x2="32.4" y2="181.60" stroke="#111" stroke-width="1"/>
<text x="27.8" y="183.70" text-anchor="end" font-family="Liberation Sans,sans-serif" font-weight="bold" font-size="6.1" fill="#000" stroke="#000" stroke-width="0.1">40</text>
<line x1="31.2" y1="176.60" x2="32.4" y2="176.60" stroke="#333" stroke-width="0.8"/>
<line x1="31.2" y1="171.60" x2="32.4" y2="171.60" stroke="#333" stroke-width="0.8"/>
<line x1="31.2" y1="166.60" x2="32.4" y2="166.60" stroke="#333" stroke-width="0.8"/>
<line x1="29.8" y1="161.60" x2="32.4" y2="161.60" stroke="#111" stroke-width="1"/>
<text x="27.8" y="163.70" text-anchor="end" font-family="Liberation Sans,sans-serif" font-weight="bold" font-size="6.1" fill="#000" stroke="#000" stroke-width="0.1">60</text>
<line x1="31.2" y1="156.60" x2="32.4" y2="156.60" stroke="#333" stroke-width="0.8"/>
<line x1="31.2" y1="151.60" x2="32.4" y2="151.60" stroke="#333" stroke-width="0.8"/>
<line x1="31.2" y1="146.60" x2="32.4" y2="146.60" stroke="#333" stroke-width="0.8"/>
<line x1="29.8" y1="141.60" x2="32.4" y2="141.60" stroke="#111" stroke-width="1"/>
<text x="27.8" y="143.70" text-anchor="end" font-family="Liberation Sans,sans-serif" font-weight="bold" font-size="6.1" fill="#000" stroke="#000" stroke-width="0.1">80</text>
<line x1="31.2" y1="136.60" x2="32.4" y2="136.60" stroke="#333" stroke-width="0.8"/>
<line x1="31.2" y1="131.60" x2="32.4" y2="131.60" stroke="#333" stroke-width="0.8"/>
<line x1="31.2" y1="126.60" x2="32.4" y2="126.60" stroke="#333" stroke-width="0.8"/>
<line x1="29.8" y1="121.60" x2="32.4" y2="121.60" stroke="#111" stroke-width="1"/>
<text x="27.8" y="123.70" text-anchor="end" font-family="Liberation Sans,sans-serif" font-weight="bold" font-size="6.1" fill="#000" stroke="#000" stroke-width="0.1">100</text>
<line x1="39.2" y1="221.5" x2="39.2" y2="224.1" stroke="#111" stroke-width="1"/>
<text x="37.4" y="232.7" font-family="Liberation Sans,sans-serif" font-weight="bold" font-size="5.9" fill="#000" stroke="#000" stroke-width="0.1">-10<tspan dy="-3.4" font-size="5.2">3</tspan></text>
<line x1="56.4" y1="221.5" x2="56.4" y2="224.1" stroke="#111" stroke-width="1"/>
<text x="58.0" y="232.7" text-anchor="middle" font-family="Liberation Sans,sans-serif" font-weight="bold" font-size="5.9" fill="#000" stroke="#000" stroke-width="0.1">0</text>
<line x1="73.7" y1="221.5" x2="73.7" y2="224.1" stroke="#111" stroke-width="1"/>
<text x="73.2" y="232.7" font-family="Liberation Sans,sans-serif" font-weight="bold" font-size="5.9" fill="#000" stroke="#000" stroke-width="0.1">10<tspan dy="-3.4" font-size="5.2">3</tspan></text>
<line x1="102.8" y1="221.5" x2="102.8" y2="224.1" stroke="#111" stroke-width="1"/>
<text x="102.3" y="232.7" font-family="Liberation Sans,sans-serif" font-weight="bold" font-size="5.9" fill="#000" stroke="#000" stroke-width="0.1">10<tspan dy="-3.4" font-size="5.2">4</tspan></text>
<line x1="127.8" y1="221.5" x2="127.8" y2="224.1" stroke="#111" stroke-width="1"/>
<text x="127.3" y="232.7" font-family="Liberation Sans,sans-serif" font-weight="bold" font-size="5.9" fill="#000" stroke="#000" stroke-width="0.1">10<tspan dy="-3.4" font-size="5.2">5</tspan></text>
<line x1="41.0" y1="221.5" x2="41.0" y2="223.3" stroke="#222" stroke-width="0.8"/>
<line x1="43.1" y1="221.5" x2="43.1" y2="223.3" stroke="#222" stroke-width="0.8"/>
<line x1="46.0" y1="221.5" x2="46.0" y2="223.3" stroke="#222" stroke-width="0.8"/>
<line x1="48.1" y1="221.5" x2="48.1" y2="223.3" stroke="#222" stroke-width="0.8"/>
<line x1="49.9" y1="221.5" x2="49.9" y2="223.3" stroke="#222" stroke-width="0.8"/>
<line x1="51.7" y1="221.5" x2="51.7" y2="223.3" stroke="#222" stroke-width="0.8"/>
<line x1="53.1" y1="221.5" x2="53.1" y2="223.3" stroke="#222" stroke-width="0.8"/>
<line x1="60.5" y1="221.5" x2="60.5" y2="223.3" stroke="#222" stroke-width="0.8"/>
<line x1="62.3" y1="221.5" x2="62.3" y2="223.3" stroke="#222" stroke-width="0.8"/>
<line x1="64.1" y1="221.5" x2="64.1" y2="223.3" stroke="#222" stroke-width="0.8"/>
<line x1="66.0" y1="221.5" x2="66.0" y2="223.3" stroke="#222" stroke-width="0.8"/>
<line x1="68.0" y1="221.5" x2="68.0" y2="223.3" stroke="#222" stroke-width="0.8"/>
<line x1="69.8" y1="221.5" x2="69.8" y2="223.3" stroke="#222" stroke-width="0.8"/>
<line x1="82.4" y1="221.5" x2="82.4" y2="223.3" stroke="#222" stroke-width="0.8"/>
<line x1="87.5" y1="221.5" x2="87.5" y2="223.3" stroke="#222" stroke-width="0.8"/>
<line x1="91.2" y1="221.5" x2="91.2" y2="223.3" stroke="#222" stroke-width="0.8"/>
<line x1="94.0" y1="221.5" x2="94.0" y2="223.3" stroke="#222" stroke-width="0.8"/>
<line x1="96.3" y1="221.5" x2="96.3" y2="223.3" stroke="#222" stroke-width="0.8"/>
<line x1="98.2" y1="221.5" x2="98.2" y2="223.3" stroke="#222" stroke-width="0.8"/>
<line x1="99.9" y1="221.5" x2="99.9" y2="223.3" stroke="#222" stroke-width="0.8"/>
<line x1="101.4" y1="221.5" x2="101.4" y2="223.3" stroke="#222" stroke-width="0.8"/>
<line x1="110.3" y1="221.5" x2="110.3" y2="223.3" stroke="#222" stroke-width="0.8"/>
<line x1="114.7" y1="221.5" x2="114.7" y2="223.3" stroke="#222" stroke-width="0.8"/>
<line x1="117.9" y1="221.5" x2="117.9" y2="223.3" stroke="#222" stroke-width="0.8"/>
<line x1="120.3" y1="221.5" x2="120.3" y2="223.3" stroke="#222" stroke-width="0.8"/>
<line x1="122.3" y1="221.5" x2="122.3" y2="223.3" stroke="#222" stroke-width="0.8"/>
<line x1="123.9" y1="221.5" x2="123.9" y2="223.3" stroke="#222" stroke-width="0.8"/>
<line x1="125.4" y1="221.5" x2="125.4" y2="223.3" stroke="#222" stroke-width="0.8"/>
<line x1="126.7" y1="221.5" x2="126.7" y2="223.3" stroke="#222" stroke-width="0.8"/>
<rect x="54.0" y="221.5" width="4.8" height="2.4" fill="#111"/>
<rect x="140.2" y="116.5" width="106.3" height="105.0" fill="none" stroke="#999" stroke-width="1"/>
<text x="143.1" y="123.8" font-family="Liberation Sans,sans-serif" font-weight="bold" font-size="5.8" fill="#000" stroke="#000" stroke-width="0.12">TITR mimic:Tresp = 1:64</text>
<path d="M140.80,221.50 L176.30,221.48 L176.55,221.46 L176.80,221.45 L177.05,221.42 L177.30,221.38 L177.55,221.33 L177.80,221.26 L178.05,221.17 L178.30,221.03 L178.55,220.86 L178.80,220.63 L179.05,220.33 L179.30,219.95 L179.55,219.46 L179.80,218.86 L180.05,218.11 L180.30,217.21 L180.55,216.14 L180.80,214.87 L181.05,213.41 L181.30,211.74 L181.55,209.88 L181.80,207.82 L182.05,205.61 L182.30,203.27 L182.55,200.84 L182.80,198.39 L183.05,195.98 L183.30,193.69 L183.55,191.58 L183.80,189.75 L184.05,188.26 L184.30,187.19 L184.55,186.59 L184.80,186.56 L185.05,187.07 L185.30,188.01 L185.55,189.29 L185.80,190.83 L186.05,192.53 L186.30,194.27 L186.55,195.96 L186.80,197.47 L187.05,198.72 L187.30,199.60 L187.55,200.03 L187.80,199.93 L188.05,199.24 L188.30,197.92 L188.55,195.92 L188.80,193.25 L189.05,189.90 L189.30,185.91 L189.55,181.32 L189.80,176.21 L190.05,170.68 L190.30,164.85 L190.55,158.86 L190.80,152.89 L191.05,147.10 L191.30,141.69 L191.55,136.84 L191.80,132.75 L192.05,129.59 L192.30,127.51 L192.55,126.69 L192.80,127.36 L193.05,129.30 L193.30,132.36 L193.55,136.36 L193.80,141.12 L194.05,146.47 L194.30,152.22 L194.55,158.16 L194.80,164.11 L195.05,169.92 L195.30,175.41 L195.55,180.47 L195.80,184.98 L196.05,188.85 L196.30,192.02 L196.55,194.44 L196.80,196.11 L197.05,197.01 L197.30,197.17 L197.55,196.63 L197.80,195.44 L198.05,193.68 L198.30,191.45 L198.55,188.86 L198.80,186.02 L199.05,183.08 L199.30,180.17 L199.55,177.45 L199.80,175.05 L200.05,173.11 L200.30,171.76 L200.55,171.10 L200.80,171.31 L201.05,172.31 L201.30,173.99 L201.55,176.24 L201.80,178.95 L202.05,181.99 L202.30,185.23 L202.55,188.56 L202.80,191.86 L203.05,195.03 L203.30,197.98 L203.55,200.65 L203.80,202.98 L204.05,204.95 L204.30,206.54 L204.55,207.76 L204.80,208.60 L205.05,209.11 L205.30,209.30 L205.55,209.23 L205.80,208.93 L206.05,208.45 L206.30,207.83 L206.55,207.12 L206.80,206.37 L207.05,205.63 L207.30,204.92 L207.55,204.30 L207.80,203.80 L208.05,203.44 L208.30,203.26 L208.55,203.29 L208.80,203.53 L209.05,203.95 L209.30,204.51 L209.55,205.21 L209.80,206.02 L210.05,206.90 L210.30,207.82 L210.55,208.77 L210.80,209.72 L211.05,210.63 L211.30,211.50 L211.55,212.29 L211.80,213.01 L212.05,213.63 L212.30,214.15 L212.55,214.56 L212.80,214.87 L213.05,215.09 L213.30,215.20 L213.55,215.23 L213.80,215.19 L214.05,215.07 L214.30,214.91 L214.55,214.70 L214.80,214.47 L215.05,214.23 L215.30,213.98 L215.55,213.75 L215.80,213.55 L216.05,213.38 L216.30,213.27 L216.55,213.21 L216.80,213.22 L217.05,213.31 L217.30,213.46 L217.55,213.67 L217.80,213.94 L218.05,214.25 L218.30,214.59 L218.55,214.97 L218.80,215.35 L219.05,215.74 L219.30,216.11 L219.55,216.44 L219.80,216.72 L220.05,216.90 L220.30,216.96 L220.55,216.85 L220.80,216.52 L221.05,215.92 L221.30,214.98 L221.55,213.66 L221.80,211.91 L222.05,209.68 L222.30,206.99 L222.55,203.86 L222.80,200.35 L223.05,196.58 L223.30,192.73 L223.55,188.97 L223.80,185.56 L224.05,182.72 L224.30,180.70 L224.55,179.70 L224.80,179.97 L225.05,181.43 L225.30,183.86 L225.55,187.02 L225.80,190.68 L226.05,194.61 L226.30,198.59 L226.55,202.43 L226.80,206.00 L227.05,209.18 L227.30,211.92 L227.55,214.22 L227.80,216.09 L228.05,217.57 L228.30,218.71 L228.55,219.56 L228.80,220.18 L229.05,220.62 L229.30,220.92 L229.55,221.13 L229.80,221.27 L230.05,221.36 L230.30,221.42 L230.55,221.45 L230.80,221.47 L231.05,221.48 L245.80,221.50" fill="none" stroke="#707070" stroke-width="1.1" stroke-linejoin="round"/>
<path d="M140.80,221.50 L176.30,221.48 L176.55,221.46 L176.80,221.45 L177.05,221.42 L177.30,221.38 L177.55,221.33 L177.80,221.26 L178.05,221.17 L178.30,221.03 L178.55,220.86 L178.80,220.63 L179.05,220.33 L179.30,219.95 L179.55,219.46 L179.80,218.86 L180.05,218.11 L180.30,217.21 L180.55,216.14 L180.80,214.87 L181.05,213.41 L181.30,211.74 L181.55,209.88 L181.80,207.82 L182.05,205.61 L182.30,203.27 L182.55,200.84 L182.80,198.39 L183.05,195.98 L183.30,193.69 L183.55,191.58 L183.80,189.75 L184.05,188.26 L184.30,187.19 L184.55,186.59 L184.80,186.56 L185.05,187.07 L185.30,188.01 L185.55,189.29 L185.80,190.83 L186.05,192.53 L186.30,194.27 L186.55,195.96 L186.80,197.47 L187.05,198.72 L187.30,199.60 L187.55,200.03 L187.80,199.93 L188.05,199.24 L188.30,197.92 L188.55,195.92 L188.80,193.25 L189.05,189.90 L189.30,185.91 L189.55,181.32 L189.80,176.21 L190.05,170.68 L190.30,164.85 L190.55,158.86 L190.80,152.89 L191.05,147.10 L191.30,141.69 L191.55,136.84 L191.80,132.75 L192.05,129.59 L192.30,127.51 L192.55,126.69 L192.80,127.36 L193.05,129.30 L193.30,132.36 L193.55,136.36 L193.80,141.12 L194.05,146.47 L194.30,152.22 L194.55,158.16 L194.80,164.11 L195.05,169.92 L195.30,175.41 L195.55,180.47 L195.80,184.98 L196.05,188.85 L196.30,192.02 L196.55,194.44 L196.80,196.11 L197.05,197.01 L197.30,197.17 L197.55,196.63 L197.80,195.44 L198.05,193.68 L198.30,191.45 L198.55,188.86 L198.80,186.02 L199.05,183.08 L199.30,180.17 L199.55,177.45 L199.80,175.05 L200.05,173.11 L200.30,171.76 L200.55,171.10 L200.80,171.31 L201.05,172.31 L201.30,173.99 L201.55,176.24 L201.80,178.95 L202.05,181.99 L202.30,185.23 L202.55,188.56 L202.80,191.86 L203.05,195.03 L203.30,197.98 L203.55,200.65 L203.80,202.98 L204.05,204.95 L204.30,206.54 L204.55,207.76 L204.80,208.60 L205.05,209.11 L205.30,209.30 L205.55,209.23 L205.80,208.93 L206.05,208.45 L206.30,207.83 L206.55,207.12 L206.80,206.37 L207.05,205.63 L207.30,204.92 L207.55,204.30 L207.80,203.80 L208.05,203.44 L208.30,203.26 L208.55,203.29 L208.80,203.53 L209.05,203.95 L209.30,204.51 L209.55,205.21 L209.80,206.02 L210.05,206.90 L210.30,207.82 L210.55,208.77 L210.80,209.72 L211.05,210.63 L211.30,211.50 L211.55,212.29 L211.80,213.01 L212.05,213.63 L212.30,214.15 L212.55,214.56 L212.80,214.87 L213.05,215.09 L213.30,215.20 L213.55,215.23 L213.80,215.19 L214.05,215.07 L214.30,214.91 L214.55,214.70 L214.80,214.47 L215.05,214.23 L215.30,213.98 L215.55,213.75 L215.80,213.55 L216.05,213.38 L216.30,213.27 L216.55,213.21 L216.80,213.22 L217.05,213.31 L217.30,213.46 L217.55,213.67 L217.80,213.94 L218.05,214.25 L218.30,214.59 L218.55,214.97 L218.80,215.35 L219.05,215.74 L219.30,216.11 L219.55,216.44 L219.80,216.72 L220.05,216.90 L220.30,216.96 L220.55,216.85 L220.80,216.52 L221.05,215.92 L221.30,214.98 L221.55,213.66 L221.80,211.91 L222.05,209.68 L222.30,206.99 L222.55,203.86 L222.80,200.35 L223.05,196.58 L223.30,192.73 L223.55,188.97 L223.80,185.56 L224.05,182.72 L224.30,180.70 L224.55,179.70 L224.80,179.97 L225.05,181.43 L225.30,183.86 L225.55,187.02 L225.80,190.68 L226.05,194.61 L226.30,198.59 L226.55,202.43 L226.80,206.00 L227.05,209.18 L227.30,211.92 L227.55,214.22 L227.80,216.09 L228.05,217.57 L228.30,218.71 L228.55,219.56 L228.80,220.18 L229.05,220.62 L229.30,220.92 L229.55,221.13 L229.80,221.27 L230.05,221.36 L230.30,221.42 L230.55,221.45 L230.80,221.47 L231.05,221.48 L245.80,221.50" fill="none" stroke="#1a1a1a" stroke-width="1.05" stroke-dasharray="8 7" stroke-linejoin="round"/>
<line x1="147.0" y1="221.5" x2="147.0" y2="224.1" stroke="#111" stroke-width="1"/>
<text x="145.2" y="232.7" font-family="Liberation Sans,sans-serif" font-weight="bold" font-size="5.9" fill="#000" stroke="#000" stroke-width="0.1">-10<tspan dy="-3.4" font-size="5.2">3</tspan></text>
<line x1="164.2" y1="221.5" x2="164.2" y2="224.1" stroke="#111" stroke-width="1"/>
<text x="165.8" y="232.7" text-anchor="middle" font-family="Liberation Sans,sans-serif" font-weight="bold" font-size="5.9" fill="#000" stroke="#000" stroke-width="0.1">0</text>
<line x1="181.5" y1="221.5" x2="181.5" y2="224.1" stroke="#111" stroke-width="1"/>
<text x="181.0" y="232.7" font-family="Liberation Sans,sans-serif" font-weight="bold" font-size="5.9" fill="#000" stroke="#000" stroke-width="0.1">10<tspan dy="-3.4" font-size="5.2">3</tspan></text>
<line x1="210.6" y1="221.5" x2="210.6" y2="224.1" stroke="#111" stroke-width="1"/>
<text x="210.1" y="232.7" font-family="Liberation Sans,sans-serif" font-weight="bold" font-size="5.9" fill="#000" stroke="#000" stroke-width="0.1">10<tspan dy="-3.4" font-size="5.2">4</tspan></text>
<line x1="235.6" y1="221.5" x2="235.6" y2="224.1" stroke="#111" stroke-width="1"/>
<text x="235.1" y="232.7" font-family="Liberation Sans,sans-serif" font-weight="bold" font-size="5.9" fill="#000" stroke="#000" stroke-width="0.1">10<tspan dy="-3.4" font-size="5.2">5</tspan></text>
<line x1="148.8" y1="221.5" x2="148.8" y2="223.3" stroke="#222" stroke-width="0.8"/>
<line x1="150.9" y1="221.5" x2="150.9" y2="223.3" stroke="#222" stroke-width="0.8"/>
<line x1="153.8" y1="221.5" x2="153.8" y2="223.3" stroke="#222" stroke-width="0.8"/>
<line x1="155.9" y1="221.5" x2="155.9" y2="223.3" stroke="#222" stroke-width="0.8"/>
<line x1="157.7" y1="221.5" x2="157.7" y2="223.3" stroke="#222" stroke-width="0.8"/>
<line x1="159.5" y1="221.5" x2="159.5" y2="223.3" stroke="#222" stroke-width="0.8"/>
<line x1="160.9" y1="221.5" x2="160.9" y2="223.3" stroke="#222" stroke-width="0.8"/>
<line x1="168.3" y1="221.5" x2="168.3" y2="223.3" stroke="#222" stroke-width="0.8"/>
<line x1="170.1" y1="221.5" x2="170.1" y2="223.3" stroke="#222" stroke-width="0.8"/>
<line x1="171.9" y1="221.5" x2="171.9" y2="223.3" stroke="#222" stroke-width="0.8"/>
<line x1="173.8" y1="221.5" x2="173.8" y2="223.3" stroke="#222" stroke-width="0.8"/>
<line x1="175.8" y1="221.5" x2="175.8" y2="223.3" stroke="#222" stroke-width="0.8"/>
<line x1="177.6" y1="221.5" x2="177.6" y2="223.3" stroke="#222" stroke-width="0.8"/>
<line x1="190.2" y1="221.5" x2="190.2" y2="223.3" stroke="#222" stroke-width="0.8"/>
<line x1="195.3" y1="221.5" x2="195.3" y2="223.3" stroke="#222" stroke-width="0.8"/>
<line x1="199.0" y1="221.5" x2="199.0" y2="223.3" stroke="#222" stroke-width="0.8"/>
<line x1="201.8" y1="221.5" x2="201.8" y2="223.3" stroke="#222" stroke-width="0.8"/>
<line x1="204.1" y1="221.5" x2="204.1" y2="223.3" stroke="#222" stroke-width="0.8"/>
<line x1="206.0" y1="221.5" x2="206.0" y2="223.3" stroke="#222" stroke-width="0.8"/>
<line x1="207.7" y1="221.5" x2="207.7" y2="223.3" stroke="#222" stroke-width="0.8"/>
<line x1="209.2" y1="221.5" x2="209.2" y2="223.3" stroke="#222" stroke-width="0.8"/>
<line x1="218.1" y1="221.5" x2="218.1" y2="223.3" stroke="#222" stroke-width="0.8"/>
<line x1="222.5" y1="221.5" x2="222.5" y2="223.3" stroke="#222" stroke-width="0.8"/>
<line x1="225.7" y1="221.5" x2="225.7" y2="223.3" stroke="#222" stroke-width="0.8"/>
<line x1="228.1" y1="221.5" x2="228.1" y2="223.3" stroke="#222" stroke-width="0.8"/>
<line x1="230.1" y1="221.5" x2="230.1" y2="223.3" stroke="#222" stroke-width="0.8"/>
<line x1="231.7" y1="221.5" x2="231.7" y2="223.3" stroke="#222" stroke-width="0.8"/>
<line x1="233.2" y1="221.5" x2="233.2" y2="223.3" stroke="#222" stroke-width="0.8"/>
<line x1="234.5" y1="221.5" x2="234.5" y2="223.3" stroke="#222" stroke-width="0.8"/>
<rect x="161.8" y="221.5" width="4.8" height="2.4" fill="#111"/>
<rect x="248.9" y="116.5" width="105.5" height="105.0" fill="none" stroke="#999" stroke-width="1"/>
<text x="251.8" y="123.8" font-family="Liberation Sans,sans-serif" font-weight="bold" font-size="5.8" fill="#000" stroke="#000" stroke-width="0.12">TITR mimic:Tresp = 0:1</text>
<path d="M249.50,221.50 L285.25,221.48 L285.50,221.46 L285.75,221.44 L286.00,221.41 L286.25,221.37 L286.50,221.30 L286.75,221.21 L287.00,221.07 L287.25,220.89 L287.50,220.63 L287.75,220.29 L288.00,219.83 L288.25,219.23 L288.50,218.45 L288.75,217.47 L289.00,216.24 L289.25,214.73 L289.50,212.91 L289.75,210.76 L290.00,208.25 L290.25,205.38 L290.50,202.17 L290.75,198.65 L291.00,194.88 L291.25,190.93 L291.50,186.91 L291.75,182.93 L292.00,179.12 L292.25,175.63 L292.50,172.60 L292.75,170.17 L293.00,168.45 L293.25,167.55 L293.50,167.61 L293.75,168.55 L294.00,170.25 L294.25,172.56 L294.50,175.33 L294.75,178.39 L295.00,181.56 L295.25,184.66 L295.50,187.52 L295.75,189.98 L296.00,191.89 L296.25,193.14 L296.50,193.63 L296.75,193.29 L297.00,192.07 L297.25,189.97 L297.50,186.99 L297.75,183.18 L298.00,178.61 L298.25,173.39 L298.50,167.63 L298.75,161.52 L299.00,155.21 L299.25,148.93 L299.50,142.87 L299.75,137.27 L300.00,132.34 L300.25,128.28 L300.50,125.29 L300.75,123.52 L301.00,123.17 L301.25,124.31 L301.50,126.75 L301.75,130.32 L302.00,134.84 L302.25,140.13 L302.50,145.97 L302.75,152.14 L303.00,158.42 L303.25,164.63 L303.50,170.58 L303.75,176.11 L304.00,181.10 L304.25,185.45 L304.50,189.09 L304.75,191.98 L305.00,194.10 L305.25,195.48 L305.50,196.13 L305.75,196.12 L306.00,195.50 L306.25,194.35 L306.50,192.77 L306.75,190.85 L307.00,188.69 L307.25,186.40 L307.50,184.09 L307.75,181.87 L308.00,179.84 L308.25,178.10 L308.50,176.73 L308.75,175.80 L309.00,175.40 L309.25,175.60 L309.50,176.36 L309.75,177.62 L310.00,179.32 L310.25,181.39 L310.50,183.74 L310.75,186.31 L311.00,189.01 L311.25,191.75 L311.50,194.46 L311.75,197.06 L312.00,199.51 L312.25,201.74 L312.50,203.72 L312.75,205.41 L313.00,206.80 L313.25,207.89 L313.50,208.67 L313.75,209.15 L314.00,209.36 L314.25,209.33 L314.50,209.08 L314.75,208.66 L315.00,208.10 L315.25,207.46 L315.50,206.77 L315.75,206.08 L316.00,205.43 L316.25,204.86 L316.50,204.42 L316.75,204.12 L317.00,204.01 L317.25,204.11 L317.50,204.41 L317.75,204.88 L318.00,205.51 L318.25,206.26 L318.50,207.11 L318.75,208.03 L319.00,208.99 L319.25,209.96 L319.50,210.90 L319.75,211.80 L320.00,212.63 L320.25,213.37 L320.50,214.01 L320.75,214.55 L321.00,214.98 L321.25,215.29 L321.50,215.50 L321.75,215.60 L322.00,215.61 L322.25,215.53 L322.50,215.39 L322.75,215.19 L323.00,214.95 L323.25,214.68 L323.50,214.40 L323.75,214.12 L324.00,213.86 L324.25,213.63 L324.50,213.44 L324.75,213.29 L325.00,213.21 L325.25,213.19 L325.50,213.26 L325.75,213.39 L326.00,213.58 L326.25,213.83 L326.50,214.12 L326.75,214.46 L327.00,214.81 L327.25,215.18 L327.50,215.54 L327.75,215.87 L328.00,216.15 L328.25,216.35 L328.50,216.43 L328.75,216.36 L329.00,216.09 L329.25,215.59 L329.50,214.80 L329.75,213.69 L330.00,212.24 L330.25,210.44 L330.50,208.31 L330.75,205.89 L331.00,203.26 L331.25,200.53 L331.50,197.84 L331.75,195.34 L332.00,193.21 L332.25,191.59 L332.50,190.65 L332.75,190.51 L333.00,191.23 L333.25,192.69 L333.50,194.73 L333.75,197.23 L334.00,200.00 L334.25,202.90 L334.50,205.77 L334.75,208.50 L335.00,210.99 L335.25,213.20 L335.50,215.09 L335.75,216.65 L336.00,217.92 L336.25,218.91 L336.50,219.67 L336.75,220.23 L337.00,220.64 L337.25,220.93 L337.50,221.13 L337.75,221.27 L338.00,221.35 L338.25,221.41 L338.50,221.45 L338.75,221.47 L339.00,221.48 L353.75,221.50" fill="none" stroke="#707070" stroke-width="1.1" stroke-linejoin="round"/>
<path d="M249.50,221.50 L285.25,221.48 L285.50,221.46 L285.75,221.44 L286.00,221.41 L286.25,221.37 L286.50,221.30 L286.75,221.21 L287.00,221.07 L287.25,220.89 L287.50,220.63 L287.75,220.29 L288.00,219.83 L288.25,219.23 L288.50,218.45 L288.75,217.47 L289.00,216.24 L289.25,214.73 L289.50,212.91 L289.75,210.76 L290.00,208.25 L290.25,205.38 L290.50,202.17 L290.75,198.65 L291.00,194.88 L291.25,190.93 L291.50,186.91 L291.75,182.93 L292.00,179.12 L292.25,175.63 L292.50,172.60 L292.75,170.17 L293.00,168.45 L293.25,167.55 L293.50,167.61 L293.75,168.55 L294.00,170.25 L294.25,172.56 L294.50,175.33 L294.75,178.39 L295.00,181.56 L295.25,184.66 L295.50,187.52 L295.75,189.98 L296.00,191.89 L296.25,193.14 L296.50,193.63 L296.75,193.29 L297.00,192.07 L297.25,189.97 L297.50,186.99 L297.75,183.18 L298.00,178.61 L298.25,173.39 L298.50,167.63 L298.75,161.52 L299.00,155.21 L299.25,148.93 L299.50,142.87 L299.75,137.27 L300.00,132.34 L300.25,128.28 L300.50,125.29 L300.75,123.52 L301.00,123.17 L301.25,124.31 L301.50,126.75 L301.75,130.32 L302.00,134.84 L302.25,140.13 L302.50,145.97 L302.75,152.14 L303.00,158.42 L303.25,164.63 L303.50,170.58 L303.75,176.11 L304.00,181.10 L304.25,185.45 L304.50,189.09 L304.75,191.98 L305.00,194.10 L305.25,195.48 L305.50,196.13 L305.75,196.12 L306.00,195.50 L306.25,194.35 L306.50,192.77 L306.75,190.85 L307.00,188.69 L307.25,186.40 L307.50,184.09 L307.75,181.87 L308.00,179.84 L308.25,178.10 L308.50,176.73 L308.75,175.80 L309.00,175.40 L309.25,175.60 L309.50,176.36 L309.75,177.62 L310.00,179.32 L310.25,181.39 L310.50,183.74 L310.75,186.31 L311.00,189.01 L311.25,191.75 L311.50,194.46 L311.75,197.06 L312.00,199.51 L312.25,201.74 L312.50,203.72 L312.75,205.41 L313.00,206.80 L313.25,207.89 L313.50,208.67 L313.75,209.15 L314.00,209.36 L314.25,209.33 L314.50,209.08 L314.75,208.66 L315.00,208.10 L315.25,207.46 L315.50,206.77 L315.75,206.08 L316.00,205.43 L316.25,204.86 L316.50,204.42 L316.75,204.12 L317.00,204.01 L317.25,204.11 L317.50,204.41 L317.75,204.88 L318.00,205.51 L318.25,206.26 L318.50,207.11 L318.75,208.03 L319.00,208.99 L319.25,209.96 L319.50,210.90 L319.75,211.80 L320.00,212.63 L320.25,213.37 L320.50,214.01 L320.75,214.55 L321.00,214.98 L321.25,215.29 L321.50,215.50 L321.75,215.60 L322.00,215.61 L322.25,215.53 L322.50,215.39 L322.75,215.19 L323.00,214.95 L323.25,214.68 L323.50,214.40 L323.75,214.12 L324.00,213.86 L324.25,213.63 L324.50,213.44 L324.75,213.29 L325.00,213.21 L325.25,213.19 L325.50,213.26 L325.75,213.39 L326.00,213.58 L326.25,213.83 L326.50,214.12 L326.75,214.46 L327.00,214.81 L327.25,215.18 L327.50,215.54 L327.75,215.87 L328.00,216.15 L328.25,216.35 L328.50,216.43 L328.75,216.36 L329.00,216.09 L329.25,215.59 L329.50,214.80 L329.75,213.69 L330.00,212.24 L330.25,210.44 L330.50,208.31 L330.75,205.89 L331.00,203.26 L331.25,200.53 L331.50,197.84 L331.75,195.34 L332.00,193.21 L332.25,191.59 L332.50,190.65 L332.75,190.51 L333.00,191.23 L333.25,192.69 L333.50,194.73 L333.75,197.23 L334.00,200.00 L334.25,202.90 L334.50,205.77 L334.75,208.50 L335.00,210.99 L335.25,213.20 L335.50,215.09 L335.75,216.65 L336.00,217.92 L336.25,218.91 L336.50,219.67 L336.75,220.23 L337.00,220.64 L337.25,220.93 L337.50,221.13 L337.75,221.27 L338.00,221.35 L338.25,221.41 L338.50,221.45 L338.75,221.47 L339.00,221.48 L353.75,221.50" fill="none" stroke="#1a1a1a" stroke-width="1.05" stroke-dasharray="8 7" stroke-linejoin="round"/>
<line x1="255.7" y1="221.5" x2="255.7" y2="224.1" stroke="#111" stroke-width="1"/>
<text x="253.9" y="232.7" font-family="Liberation Sans,sans-serif" font-weight="bold" font-size="5.9" fill="#000" stroke="#000" stroke-width="0.1">-10<tspan dy="-3.4" font-size="5.2">3</tspan></text>
<line x1="272.9" y1="221.5" x2="272.9" y2="224.1" stroke="#111" stroke-width="1"/>
<text x="274.5" y="232.7" text-anchor="middle" font-family="Liberation Sans,sans-serif" font-weight="bold" font-size="5.9" fill="#000" stroke="#000" stroke-width="0.1">0</text>
<line x1="290.2" y1="221.5" x2="290.2" y2="224.1" stroke="#111" stroke-width="1"/>
<text x="289.7" y="232.7" font-family="Liberation Sans,sans-serif" font-weight="bold" font-size="5.9" fill="#000" stroke="#000" stroke-width="0.1">10<tspan dy="-3.4" font-size="5.2">3</tspan></text>
<line x1="319.3" y1="221.5" x2="319.3" y2="224.1" stroke="#111" stroke-width="1"/>
<text x="318.8" y="232.7" font-family="Liberation Sans,sans-serif" font-weight="bold" font-size="5.9" fill="#000" stroke="#000" stroke-width="0.1">10<tspan dy="-3.4" font-size="5.2">4</tspan></text>
<line x1="344.3" y1="221.5" x2="344.3" y2="224.1" stroke="#111" stroke-width="1"/>
<text x="343.8" y="232.7" font-family="Liberation Sans,sans-serif" font-weight="bold" font-size="5.9" fill="#000" stroke="#000" stroke-width="0.1">10<tspan dy="-3.4" font-size="5.2">5</tspan></text>
<line x1="257.5" y1="221.5" x2="257.5" y2="223.3" stroke="#222" stroke-width="0.8"/>
<line x1="259.6" y1="221.5" x2="259.6" y2="223.3" stroke="#222" stroke-width="0.8"/>
<line x1="262.5" y1="221.5" x2="262.5" y2="223.3" stroke="#222" stroke-width="0.8"/>
<line x1="264.6" y1="221.5" x2="264.6" y2="223.3" stroke="#222" stroke-width="0.8"/>
<line x1="266.4" y1="221.5" x2="266.4" y2="223.3" stroke="#222" stroke-width="0.8"/>
<line x1="268.2" y1="221.5" x2="268.2" y2="223.3" stroke="#222" stroke-width="0.8"/>
<line x1="269.6" y1="221.5" x2="269.6" y2="223.3" stroke="#222" stroke-width="0.8"/>
<line x1="277.0" y1="221.5" x2="277.0" y2="223.3" stroke="#222" stroke-width="0.8"/>
<line x1="278.8" y1="221.5" x2="278.8" y2="223.3" stroke="#222" stroke-width="0.8"/>
<line x1="280.6" y1="221.5" x2="280.6" y2="223.3" stroke="#222" stroke-width="0.8"/>
<line x1="282.5" y1="221.5" x2="282.5" y2="223.3" stroke="#222" stroke-width="0.8"/>
<line x1="284.5" y1="221.5" x2="284.5" y2="223.3" stroke="#222" stroke-width="0.8"/>
<line x1="286.3" y1="221.5" x2="286.3" y2="223.3" stroke="#222" stroke-width="0.8"/>
<line x1="298.9" y1="221.5" x2="298.9" y2="223.3" stroke="#222" stroke-width="0.8"/>
<line x1="304.0" y1="221.5" x2="304.0" y2="223.3" stroke="#222" stroke-width="0.8"/>
<line x1="307.7" y1="221.5" x2="307.7" y2="223.3" stroke="#222" stroke-width="0.8"/>
<line x1="310.5" y1="221.5" x2="310.5" y2="223.3" stroke="#222" stroke-width="0.8"/>
<line x1="312.8" y1="221.5" x2="312.8" y2="223.3" stroke="#222" stroke-width="0.8"/>
<line x1="314.7" y1="221.5" x2="314.7" y2="223.3" stroke="#222" stroke-width="0.8"/>
<line x1="316.4" y1="221.5" x2="316.4" y2="223.3" stroke="#222" stroke-width="0.8"/>
<line x1="317.9" y1="221.5" x2="317.9" y2="223.3" stroke="#222" stroke-width="0.8"/>
<line x1="326.8" y1="221.5" x2="326.8" y2="223.3" stroke="#222" stroke-width="0.8"/>
<line x1="331.2" y1="221.5" x2="331.2" y2="223.3" stroke="#222" stroke-width="0.8"/>
<line x1="334.4" y1="221.5" x2="334.4" y2="223.3" stroke="#222" stroke-width="0.8"/>
<line x1="336.8" y1="221.5" x2="336.8" y2="223.3" stroke="#222" stroke-width="0.8"/>
<line x1="338.8" y1="221.5" x2="338.8" y2="223.3" stroke="#222" stroke-width="0.8"/>
<line x1="340.4" y1="221.5" x2="340.4" y2="223.3" stroke="#222" stroke-width="0.8"/>
<line x1="341.9" y1="221.5" x2="341.9" y2="223.3" stroke="#222" stroke-width="0.8"/>
<line x1="343.2" y1="221.5" x2="343.2" y2="223.3" stroke="#222" stroke-width="0.8"/>
<rect x="270.5" y="221.5" width="4.8" height="2.4" fill="#111"/>
<line x1="429.6" y1="17.4" x2="429.6" y2="204.7" stroke="#000" stroke-width="1.3"/>
<line x1="429.0" y1="204.0" x2="676" y2="204.0" stroke="#000" stroke-width="1.5"/>
<line x1="425.1" y1="204.00" x2="429.6" y2="204.00" stroke="#000" stroke-width="1.3"/>
<text x="422.4" y="208.60" text-anchor="end" font-family="Liberation Sans,sans-serif" font-weight="bold" font-size="11.2" fill="#000">0.0</text>
<line x1="425.1" y1="157.35" x2="429.6" y2="157.35" stroke="#000" stroke-width="1.3"/>
<text x="422.4" y="161.95" text-anchor="end" font-family="Liberation Sans,sans-serif" font-weight="bold" font-size="11.2" fill="#000">0.5</text>
<line x1="425.1" y1="110.70" x2="429.6" y2="110.70" stroke="#000" stroke-width="1.3"/>
<text x="422.4" y="115.30" text-anchor="end" font-family="Liberation Sans,sans-serif" font-weight="bold" font-size="11.2" fill="#000">1.0</text>
<line x1="425.1" y1="64.05" x2="429.6" y2="64.05" stroke="#000" stroke-width="1.3"/>
<text x="422.4" y="68.65" text-anchor="end" font-family="Liberation Sans,sans-serif" font-weight="bold" font-size="11.2" fill="#000">1.5</text>
<line x1="425.1" y1="17.40" x2="429.6" y2="17.40" stroke="#000" stroke-width="1.3"/>
<text x="422.4" y="22.00" text-anchor="end" font-family="Liberation Sans,sans-serif" font-weight="bold" font-size="11.2" fill="#000">2.0</text>
<text x="0" y="0" transform="translate(397.4,182.0) rotate(-90)" font-family="Liberation Sans,sans-serif" font-weight="bold" font-size="13.3" fill="#000">Tresp proliferation (DI)</text>
<text x="552.7" y="237.1" text-anchor="middle" font-family="Liberation Sans,sans-serif" font-weight="bold" font-size="13.4" fill="#000">TITR mimic:Tresp ratios</text>
<rect x="443.95" y="188.25" width="23.9" height="15.75" fill="#ffffff" stroke="#000" stroke-width="1.9"/>
<line x1="455.9" y1="204.0" x2="455.9" y2="208.5" stroke="#000" stroke-width="1.2"/>
<text x="455.9" y="222.0" text-anchor="middle" font-family="Liberation Sans,sans-serif" font-weight="bold" font-size="11" fill="#000">1:4</text>
<rect x="482.65" y="177.85" width="23.9" height="26.15" fill="#d4d4d4" stroke="#000" stroke-width="1.9"/>
<line x1="494.6" y1="204.0" x2="494.6" y2="208.5" stroke="#000" stroke-width="1.2"/>
<text x="494.6" y="222.0" text-anchor="middle" font-family="Liberation Sans,sans-serif" font-weight="bold" font-size="11" fill="#000">1:8</text>
<rect x="521.35" y="156.55" width="23.9" height="47.45" fill="#a3a3a3" stroke="#000" stroke-width="1.9"/>
<line x1="533.3" y1="204.0" x2="533.3" y2="208.5" stroke="#000" stroke-width="1.2"/>
<text x="533.3" y="222.0" text-anchor="middle" font-family="Liberation Sans,sans-serif" font-weight="bold" font-size="11" fill="#000">1:16</text>
<rect x="560.05" y="127.35" width="23.9" height="76.65" fill="#808080" stroke="#000" stroke-width="1.9"/>
<line x1="572.0" y1="204.0" x2="572.0" y2="208.5" stroke="#000" stroke-width="1.2"/>
<text x="572.0" y="222.0" text-anchor="middle" font-family="Liberation Sans,sans-serif" font-weight="bold" font-size="11" fill="#000">1:32</text>
<rect x="598.75" y="102.95" width="23.9" height="101.05" fill="#5f5f5f" stroke="#000" stroke-width="1.9"/>
<line x1="610.7" y1="204.0" x2="610.7" y2="208.5" stroke="#000" stroke-width="1.2"/>
<text x="610.7" y="222.0" text-anchor="middle" font-family="Liberation Sans,sans-serif" font-weight="bold" font-size="11" fill="#000">1:64</text>
<rect x="637.45" y="82.65" width="23.9" height="121.35" fill="#333333" stroke="#000" stroke-width="1.9"/>
<line x1="649.4" y1="204.0" x2="649.4" y2="208.5" stroke="#000" stroke-width="1.2"/>
<text x="649.4" y="222.0" text-anchor="middle" font-family="Liberation Sans,sans-serif" font-weight="bold" font-size="11" fill="#000">0:1</text>
<line x1="455.5" y1="178.8" x2="455.5" y2="187.3" stroke="#000" stroke-width="1.2"/>
<line x1="449.5" y1="178.8" x2="461.8" y2="178.8" stroke="#000" stroke-width="1.2"/>
<line x1="450.4" y1="178.8" x2="450.4" y2="187.3" stroke="#999" stroke-width="1.3"/>
<rect x="442.35" y="180.25" width="7.30" height="7.30" fill="#fff" stroke="#000" stroke-width="1.1"/>
<path d="M442.65,180.55 L449.35,187.25 M442.65,187.25 L449.35,180.55" stroke="#000" stroke-width="0.9"/>
<circle cx="464.80" cy="180.80" r="3.65" fill="#fff" stroke="#000" stroke-width="1.1"/>
<path d="M462.25,178.25 L467.36,183.36 M462.25,183.36 L467.36,178.25" stroke="#000" stroke-width="0.9"/>
<polygon points="455.65,192.00 459.55,195.90 455.65,199.80 451.75,195.90" fill="#fff" stroke="#000" stroke-width="1.15" stroke-linejoin="round"/>
<path d="M455.65,192.30 L455.65,199.50 M452.05,195.90 L459.25,195.90" stroke="#000" stroke-width="1.0"/>
<line x1="493.8" y1="167.3" x2="493.8" y2="176.9" stroke="#000" stroke-width="1.2"/>
<line x1="488.2" y1="167.3" x2="500.1" y2="167.3" stroke="#000" stroke-width="1.2"/>
<rect x="481.35" y="169.25" width="7.30" height="7.30" fill="#fff" stroke="#000" stroke-width="1.1"/>
<path d="M481.65,169.55 L488.35,176.25 M481.65,176.25 L488.35,169.55" stroke="#000" stroke-width="0.9"/>
<circle cx="503.70" cy="170.20" r="3.65" fill="#fff" stroke="#000" stroke-width="1.1"/>
<path d="M501.14,167.64 L506.25,172.75 M501.14,172.75 L506.25,167.64" stroke="#000" stroke-width="0.9"/>
<polygon points="494.30,183.30 498.20,187.20 494.30,191.10 490.40,187.20" fill="#fff" stroke="#000" stroke-width="1.15" stroke-linejoin="round"/>
<path d="M494.30,183.60 L494.30,190.80 M490.70,187.20 L497.90,187.20" stroke="#000" stroke-width="1.0"/>
<line x1="532.6" y1="150.0" x2="532.6" y2="155.6" stroke="#000" stroke-width="1.2"/>
<line x1="526.5" y1="150.0" x2="539.5" y2="150.0" stroke="#000" stroke-width="1.2"/>
<circle cx="533.00" cy="149.90" r="3.65" fill="#fff" stroke="#000" stroke-width="1.1"/>
<path d="M530.45,147.34 L535.55,152.46 M530.45,152.46 L535.55,147.34" stroke="#000" stroke-width="0.9"/>
<polygon points="523.40,156.70 527.30,160.60 523.40,164.50 519.50,160.60" fill="#fff" stroke="#000" stroke-width="1.15" stroke-linejoin="round"/>
<path d="M523.40,157.00 L523.40,164.20 M519.80,160.60 L527.00,160.60" stroke="#000" stroke-width="1.0"/>
<rect x="538.75" y="152.65" width="7.30" height="7.30" fill="#fff" stroke="#000" stroke-width="1.1"/>
<path d="M539.05,152.95 L545.75,159.65 M539.05,159.65 L545.75,152.95" stroke="#000" stroke-width="0.9"/>
<line x1="571.6" y1="116.2" x2="571.6" y2="126.4" stroke="#000" stroke-width="1.2"/>
<line x1="565.3" y1="116.2" x2="577.9" y2="116.2" stroke="#000" stroke-width="1.2"/>
<polygon points="571.60,111.50 575.50,115.40 571.60,119.30 567.70,115.40" fill="#fff" stroke="#000" stroke-width="1.15" stroke-linejoin="round"/>
<path d="M571.60,111.80 L571.60,119.00 M568.00,115.40 L575.20,115.40" stroke="#000" stroke-width="1.0"/>
<circle cx="580.90" cy="128.20" r="3.65" fill="#fff" stroke="#000" stroke-width="1.1"/>
<path d="M578.35,125.64 L583.45,130.75 M578.35,130.75 L583.45,125.64" stroke="#000" stroke-width="0.9"/>
<rect x="558.25" y="129.85" width="7.30" height="7.30" fill="#fff" stroke="#000" stroke-width="1.1"/>
<path d="M558.55,130.15 L565.25,136.85 M558.55,136.85 L565.25,130.15" stroke="#000" stroke-width="0.9"/>
<line x1="610.3" y1="90.2" x2="610.3" y2="102.0" stroke="#000" stroke-width="1.2"/>
<line x1="604.3" y1="90.2" x2="616.4" y2="90.2" stroke="#000" stroke-width="1.2"/>
<polygon points="610.30,86.30 614.20,90.20 610.30,94.10 606.40,90.20" fill="#fff" stroke="#000" stroke-width="1.15" stroke-linejoin="round"/>
<path d="M610.30,86.60 L610.30,93.80 M606.70,90.20 L613.90,90.20" stroke="#000" stroke-width="1.0"/>
<circle cx="610.30" cy="100.30" r="3.65" fill="#fff" stroke="#000" stroke-width="1.1"/>
<path d="M607.75,97.75 L612.85,102.85 M607.75,102.85 L612.85,97.75" stroke="#000" stroke-width="0.9"/>
<rect x="606.45" y="110.55" width="7.30" height="7.30" fill="#fff" stroke="#000" stroke-width="1.1"/>
<path d="M606.75,110.85 L613.45,117.55 M606.75,117.55 L613.45,110.85" stroke="#000" stroke-width="0.9"/>
<line x1="649.3" y1="61.6" x2="649.3" y2="81.7" stroke="#000" stroke-width="1.2"/>
<line x1="643.0" y1="61.6" x2="655.3" y2="61.6" stroke="#000" stroke-width="1.2"/>
<polygon points="649.30,59.20 653.20,63.10 649.30,67.00 645.40,63.10" fill="#fff" stroke="#000" stroke-width="1.15" stroke-linejoin="round"/>
<path d="M649.30,59.50 L649.30,66.70 M645.70,63.10 L652.90,63.10" stroke="#000" stroke-width="1.0"/>
<circle cx="649.10" cy="78.60" r="3.65" fill="#fff" stroke="#000" stroke-width="1.1"/>
<path d="M646.55,76.04 L651.65,81.16 M646.55,81.16 L651.65,76.04" stroke="#000" stroke-width="0.9"/>
<rect x="645.75" y="99.15" width="7.30" height="7.30" fill="#fff" stroke="#000" stroke-width="1.1"/>
<path d="M646.05,99.45 L652.75,106.15 M646.05,106.15 L652.75,99.45" stroke="#000" stroke-width="0.9"/>
<polygon points="447.55,167.40 448.31,169.35 450.40,169.47 448.79,170.80 449.31,172.83 447.55,171.70 445.79,172.83 446.31,170.80 444.70,169.47 446.79,169.35" fill="#000" stroke="#000" stroke-width="0.2" stroke-linejoin="round"/>
<polygon points="452.85,167.40 453.61,169.35 455.70,169.47 454.09,170.80 454.61,172.83 452.85,171.70 451.09,172.83 451.61,170.80 450.00,169.47 452.09,169.35" fill="#000" stroke="#000" stroke-width="0.2" stroke-linejoin="round"/>
<polygon points="458.15,167.40 458.91,169.35 461.00,169.47 459.39,170.80 459.91,172.83 458.15,171.70 456.39,172.83 456.91,170.80 455.30,169.47 457.39,169.35" fill="#000" stroke="#000" stroke-width="0.2" stroke-linejoin="round"/>
<polygon points="463.45,167.40 464.21,169.35 466.30,169.47 464.69,170.80 465.21,172.83 463.45,171.70 461.69,172.83 462.21,170.80 460.60,169.47 462.69,169.35" fill="#000" stroke="#000" stroke-width="0.2" stroke-linejoin="round"/>
<polygon points="486.55,156.60 487.31,158.55 489.40,158.67 487.79,160.00 488.31,162.03 486.55,160.90 484.79,162.03 485.31,160.00 483.70,158.67 485.79,158.55" fill="#000" stroke="#000" stroke-width="0.2" stroke-linejoin="round"/>
<polygon points="491.85,156.60 492.61,158.55 494.70,158.67 493.09,160.00 493.61,162.03 491.85,160.90 490.09,162.03 490.61,160.00 489.00,158.67 491.09,158.55" fill="#000" stroke="#000" stroke-width="0.2" stroke-linejoin="round"/>
<polygon points="497.15,156.60 497.91,158.55 500.00,158.67 498.39,160.00 498.91,162.03 497.15,160.90 495.39,162.03 495.91,160.00 494.30,158.67 496.39,158.55" fill="#000" stroke="#000" stroke-width="0.2" stroke-linejoin="round"/>
<polygon points="502.45,156.60 503.21,158.55 505.30,158.67 503.69,160.00 504.21,162.03 502.45,160.90 500.69,162.03 501.21,160.00 499.60,158.67 501.69,158.55" fill="#000" stroke="#000" stroke-width="0.2" stroke-linejoin="round"/>
<polygon points="525.25,136.40 526.01,138.35 528.10,138.47 526.49,139.80 527.01,141.83 525.25,140.70 523.49,141.83 524.01,139.80 522.40,138.47 524.49,138.35" fill="#000" stroke="#000" stroke-width="0.2" stroke-linejoin="round"/>
<polygon points="530.55,136.40 531.31,138.35 533.40,138.47 531.79,139.80 532.31,141.83 530.55,140.70 528.79,141.83 529.31,139.80 527.70,138.47 529.79,138.35" fill="#000" stroke="#000" stroke-width="0.2" stroke-linejoin="round"/>
<polygon points="535.85,136.40 536.61,138.35 538.70,138.47 537.09,139.80 537.61,141.83 535.85,140.70 534.09,141.83 534.61,139.80 533.00,138.47 535.09,138.35" fill="#000" stroke="#000" stroke-width="0.2" stroke-linejoin="round"/>
<polygon points="541.15,136.40 541.91,138.35 544.00,138.47 542.39,139.80 542.91,141.83 541.15,140.70 539.39,141.83 539.91,139.80 538.30,138.47 540.39,138.35" fill="#000" stroke="#000" stroke-width="0.2" stroke-linejoin="round"/>
<polygon points="569.15,102.60 569.91,104.55 572.00,104.67 570.39,106.00 570.91,108.03 569.15,106.90 567.39,108.03 567.91,106.00 566.30,104.67 568.39,104.55" fill="#000" stroke="#000" stroke-width="0.2" stroke-linejoin="round"/>
<polygon points="574.45,102.60 575.21,104.55 577.30,104.67 575.69,106.00 576.21,108.03 574.45,106.90 572.69,108.03 573.21,106.00 571.60,104.67 573.69,104.55" fill="#000" stroke="#000" stroke-width="0.2" stroke-linejoin="round"/>
<text x="610.7" y="83.2" text-anchor="middle" font-family="Liberation Sans,sans-serif" font-weight="bold" font-size="13.6" fill="#000">ns</text>
</svg>
</body></html>
